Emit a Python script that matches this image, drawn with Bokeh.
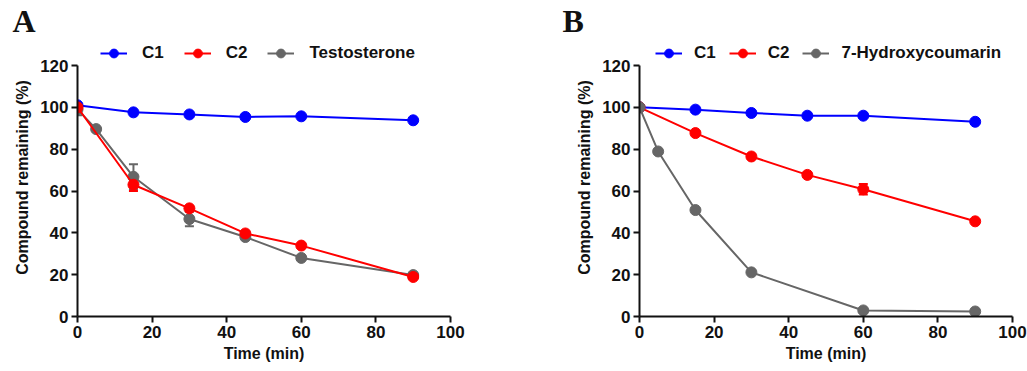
from bokeh.plotting import figure
from bokeh.layouts import row
from bokeh.models import (Legend, LegendItem, Whisker, TeeHead, ColumnDataSource,
                          FixedTicker, Range1d)
from bokeh.embed import file_html
from bokeh.resources import INLINE

# ---------------- data ----------------
time_a_c1 = [0, 15, 30, 45, 60, 90]
a_c1 = [101.0, 97.6, 96.6, 95.4, 95.7, 93.8]
time_a_c2 = [0, 15, 30, 45, 60, 90]
a_c2 = [100.0, 63.0, 51.7, 39.7, 33.9, 18.9]
a_c2_err = [1.0, 3.0, 1.0, 0.8, 0.8, 0.8]
time_a_t = [0, 5, 15, 30, 45, 60, 90]
a_t = [99.0, 89.6, 66.8, 46.6, 38.0, 28.0, 19.8]
a_t_err = [2.8, 0.8, 6.0, 3.5, 0.6, 0.8, 0.8]

time_b_c1 = [0, 15, 30, 45, 60, 90]
b_c1 = [100.0, 98.9, 97.3, 96.0, 96.0, 93.1]
time_b_c2 = [0, 15, 30, 45, 60, 90]
b_c2 = [100.0, 87.7, 76.5, 67.7, 60.8, 45.5]
b_c2_err = [0.5, 0.8, 0.8, 0.8, 2.5, 0.8]
time_b_h = [0, 5, 15, 30, 60, 90]
b_h = [100.0, 78.9, 50.9, 21.1, 2.9, 2.4]
b_h_err = [0.5, 0.5, 0.8, 0.8, 0.8, 0.5]

x_ticks = [0, 20, 40, 60, 80, 100]
y_ticks = [0, 20, 40, 60, 80, 100, 120]

BLUE = "#0000FF"
RED = "#FF0000"
GRAY = "#666666"
FONT = "Liberation Sans"

TOP = 38          # frame top (px) -- room above y=120 holds the legend
BOTTOM = 55
HEIGHT = 371
Y_END = 120 * (HEIGHT - BOTTOM - TOP) / (HEIGHT - BOTTOM - 65)


def make_panel(letter, width, border_left, border_right, series, order,
               legend_x, spacing, standoff):
    p = figure(width=width, height=HEIGHT, output_backend="svg", toolbar_location=None,
               x_range=Range1d(0, 100), y_range=Range1d(0, Y_END),
               min_border_left=border_left, min_border_right=border_right,
               min_border_top=TOP, min_border_bottom=BOTTOM, title=letter)
    p.outline_line_color = None
    p.grid.visible = False
    p.background_fill_color = "white"
    p.border_fill_color = "white"
    for ax in (p.xaxis[0], p.yaxis[0]):
        ax.axis_line_width = 2
        ax.axis_line_color = "#111111"
        ax.major_tick_line_width = 2
        ax.major_tick_line_color = "#111111"
        ax.major_tick_out = 6
        ax.major_tick_in = 0
        ax.minor_tick_line_color = None
        ax.major_label_text_font = FONT
        ax.major_label_text_font_style = "bold"
        ax.major_label_text_font_size = "17px"
        ax.major_label_text_color = "#111111"
        ax.axis_label_text_font = FONT
        ax.axis_label_text_font_style = "bold"
        ax.axis_label_text_font_size = "16px"
        ax.axis_label_text_color = "#111111"
    p.xaxis.ticker = FixedTicker(ticks=x_ticks)
    p.yaxis.ticker = FixedTicker(ticks=y_ticks)
    p.yaxis.bounds = (0, 120)
    p.xaxis.axis_label = "Time (min)"
    p.yaxis.axis_label = "Compound remaining (%)"
    p.xaxis.major_label_standoff = 3
    p.yaxis.major_label_standoff = 3
    p.xaxis.axis_label_standoff = 4
    p.yaxis.axis_label_standoff = 6

    items = {}
    for key in order:
        name, xs, ys, errs, color = series[key]
        lr = p.line(xs, ys, line_color=color, line_width=2)
        if errs is not None:
            src = ColumnDataSource(dict(x=xs, up=[y + e for y, e in zip(ys, errs)],
                                        lo=[y - e for y, e in zip(ys, errs)]))
            w = Whisker(source=src, base="x", upper="up", lower="lo",
                        line_color=color, line_width=2,
                        upper_head=TeeHead(size=9, line_color=color, line_width=2),
                        lower_head=TeeHead(size=9, line_color=color, line_width=2))
            p.add_layout(w)
        sr = p.scatter(xs, ys, size=11, fill_color=color, line_color=color)
        items[key] = LegendItem(label=name, renderers=[lr, sr])

    legend = Legend(items=[items[k] for k in ("c1", "c2", "ref")],
                    orientation="horizontal", location=(legend_x, 252),
                    glyph_width=27, glyph_height=22, label_standoff=standoff,
                    spacing=spacing, padding=0, margin=0,
                    border_line_color=None, background_fill_alpha=0,
                    label_text_font=FONT, label_text_font_style="bold",
                    label_text_font_size="17px", label_text_color="#111111")
    p.add_layout(legend, "center")

    p.title.text_font = "Liberation Serif"
    p.title.text_font_style = "bold"
    p.title.text_font_size = "32px"
    p.title.text_color = "#111111"
    p.title.align = "left"
    p.title.standoff = 0
    p.title.text_line_height = 1.0
    p.title.offset = -(border_left - 12)
    return p


series_a = {
    "c1": ("C1", time_a_c1, a_c1, None, BLUE),
    "c2": ("C2", time_a_c2, a_c2, a_c2_err, RED),
    "ref": ("Testosterone", time_a_t, a_t, a_t_err, GRAY),
}
series_b = {
    "c1": ("C1", time_b_c1, b_c1, None, BLUE),
    "c2": ("C2", time_b_c2, b_c2, b_c2_err, RED),
    "ref": ("7-Hydroxycoumarin", time_b_h, b_h, b_h_err, GRAY),
}

p1 = make_panel("A", 550, 77, 100, series_a, ("ref", "c1", "c2"), 23, 20, 15)
p2 = make_panel("B", 477, 89, 15, series_b, ("c1", "c2", "ref"), 16, 13, 12)

layout = row(p1, p2)
open("out.html", "w").write(file_html(layout, INLINE))
